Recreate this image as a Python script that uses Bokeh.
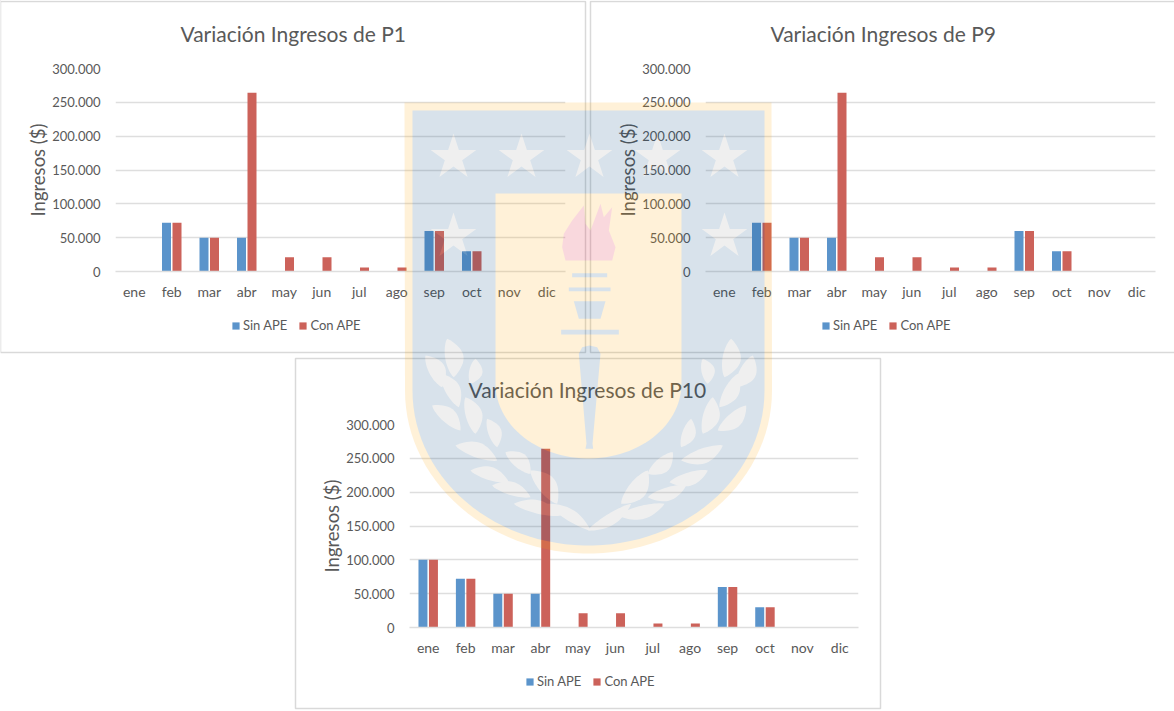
import numpy as np
from bokeh.embed import file_html
from bokeh.resources import INLINE
from bokeh.models import ColumnDataSource, FixedTicker, Range1d, FactorRange, Title, Legend, LegendItem
from bokeh.plotting import figure
from bokeh.transform import dodge

months = ["ene", "feb", "mar", "abr", "may", "jun", "jul", "ago", "sep", "oct", "nov", "dic"]
p1_sin = [0, 72000, 50000, 50000, 0, 0, 0, 0, 60000, 30000, 0, 0]
p1_con = [0, 72000, 50000, 264000, 21000, 21000, 6000, 6000, 60000, 30000, 0, 0]
p9_sin = [0, 72000, 50000, 50000, 0, 0, 0, 0, 60000, 30000, 0, 0]
p9_con = [0, 72000, 50000, 264000, 21000, 21000, 6000, 6000, 60000, 30000, 0, 0]
p10_sin = [100000, 72000, 50000, 50000, 0, 0, 0, 0, 60000, 30000, 0, 0]
p10_con = [100000, 72000, 50000, 264000, 21000, 21000, 6000, 6000, 60000, 30000, 0, 0]
y_ticks = [0, 50000, 100000, 150000, 200000, 250000, 300000]
y_labels = ["0", "50.000", "100.000", "150.000", "200.000", "250.000", "300.000"]
series_names = ["Sin APE", "Con APE"]

BLUE, RED, INK, GRID = "#5b94cb", "#cc625a", "#595959", "#dedede"
FONT = "Lato"
HEAD = 20  # extra room above each chart so that the title never pushes its frame down


def place(fig, left, top, extra=None):
    s = {"position": "absolute", "left": f"{left}px", "top": f"{top}px"}
    s.update(extra or {})
    fig.styles = s


def chart(title, sin, con, left, top, w, h, border_top, right, title_offset):
    src = ColumnDataSource(dict(m=months, sin=sin, con=con))
    p = figure(x_range=FactorRange(*months, range_padding=0, factor_padding=0),
               y_range=Range1d(0, 300000), width=w, height=h + HEAD, output_backend="svg",
               toolbar_location=None, min_border_left=115, min_border_right=right,
               min_border_top=border_top + HEAD, min_border_bottom=h - border_top - 203)
    p.title = Title(text=title, text_font=FONT, text_font_size="21px", text_font_style="normal",
                    text_color=INK, align="left", offset=title_offset, standoff=46)
    p.background_fill_alpha = 0
    p.border_fill_alpha = 0
    p.outline_line_color = None
    p.vbar(x=dodge("m", -0.14, range=p.x_range), top="sin", width=0.24, bottom=0, source=src,
           color=BLUE, line_color=None)
    p.vbar(x=dodge("m", 0.14, range=p.x_range), top="con", width=0.24, bottom=0, source=src,
           color=RED, line_color=None)
    p.xgrid.visible = False
    p.ygrid.grid_line_color = GRID
    p.ygrid.grid_line_width = 1.5
    p.yaxis.ticker = FixedTicker(ticks=y_ticks)
    p.yaxis.major_label_overrides = dict(zip(y_ticks, y_labels))
    p.yaxis.axis_line_color = None
    p.xaxis.axis_line_color = GRID
    p.xaxis.axis_line_width = 1.5
    for ax in (p.xaxis[0], p.yaxis[0]):
        ax.major_tick_line_color = None
        ax.minor_tick_line_color = None
        ax.major_label_text_font = FONT
        ax.major_label_text_color = INK
    p.xaxis.major_label_text_font_size = "14px"
    p.yaxis.major_label_text_font_size = "13px"
    p.xaxis.major_label_standoff = 5
    p.yaxis.major_label_standoff = 9
    p.yaxis.axis_label = "Ingresos ($)"
    p.yaxis.axis_label_text_font = FONT
    p.yaxis.axis_label_text_font_size = "18.5px"
    p.yaxis.axis_label_text_font_style = "normal"
    p.yaxis.axis_label_text_color = INK
    p.yaxis.axis_label_standoff = 0
    place(p, left, top - HEAD)
    return p


def canvas_fig():
    f = figure(x_range=Range1d(0, 1174), y_range=Range1d(711, 0), width=1174, height=711,
               output_backend="svg", toolbar_location=None, x_axis_type=None, y_axis_type=None,
               min_border_left=0, min_border_right=0, min_border_top=0, min_border_bottom=0)
    f.grid.visible = False
    f.outline_line_color = None
    f.background_fill_alpha = 0
    f.border_fill_alpha = 0
    return f


# chart panels, behind the charts; the legends sit here because a chart's frame would clip them
panels = canvas_fig()
panels.quad(left=[0, 590, 295], right=[585, 1180, 880], top=[1, 1, 358], bottom=[352, 352, 708],
            fill_color="white", line_color="#d9d9d9", line_width=1.5)
# keys for the legends: one bar each, outside the visible range
key_sin = panels.vbar(x=[-50], top=[-60], bottom=[-50], width=1, color=BLUE, line_color=None)
key_con = panels.vbar(x=[-50], top=[-60], bottom=[-50], width=1, color=RED, line_color=None)
for lx, ly in [(231, 378), (821, 378), (525, 22)]:
    lg = Legend(items=[LegendItem(label=series_names[0], renderers=[key_sin]),
                       LegendItem(label=series_names[1], renderers=[key_con])],
                orientation="horizontal", location=(lx, ly), margin=0, padding=0, spacing=11,
                border_line_color=None, background_fill_alpha=0, glyph_width=9, glyph_height=9,
                label_standoff=3, label_text_font=FONT, label_text_font_size="13px", label_text_color=INK)
    panels.add_layout(lg, "center")
place(panels, 0, 0)

# watermark crest, laid over the charts at low opacity
wm = canvas_fig()
CX = 588


def shield(x0, x1, top, straight, bottom):
    t = np.linspace(np.pi, 0, 60)
    xs = CX + (x1 - x0) / 2 * np.cos(t)
    ys = straight + (bottom - straight) * np.sin(t)
    return [x0, *xs, x1], [top, *ys, top]


def star(cx, cy, r=24):
    a = np.arange(10) * np.pi / 5 - np.pi / 2
    rad = np.where(np.arange(10) % 2 == 0, r, r * 0.38)
    return list(cx + rad * np.cos(a)), list(cy + rad * np.sin(a))


def z(x, y):
    return 390 + x / 3, 90 + y / 3


def poly(pts, color):
    xs, ys = zip(*[z(*q) for q in pts])
    wm.patch(list(xs), list(ys), color=color, line_color=None)


def leaf(a, b, w, color):
    (x0, y0), (x1, y1) = z(*a), z(*b)
    t = np.linspace(0, 1, 20)
    dx, dy = x1 - x0, y1 - y0
    n = np.hypot(dx, dy)
    nx, ny = -dy / n, dx / n
    off = np.sin(np.pi * t) ** 0.8 * w / 6
    bow = np.sin(np.pi * t) * w / 14
    xs = np.r_[x0 + dx * t + nx * (off + bow), (x0 + dx * t + nx * (-off + bow))[::-1]]
    ys = np.r_[y0 + dy * t + ny * (off + bow), (y0 + dy * t + ny * (-off + bow))[::-1]]
    wm.patch(xs, ys, color=color, line_color=None)


YEL, NAVY, PALE, FLAME = "#ffa500", "#00457f", "#9b9b9b", "#dd0023"
xs, ys = shield(404, 771, 102, 390, 553)
wm.patch(xs, ys, color=YEL, line_color=None)
xs, ys = shield(412, 764, 110, 390, 545)
wm.patch(xs, ys, color=NAVY, line_color=None)
for sx, sy in [(453, 157), (521, 157), (589, 157), (657, 157), (724, 157), (453, 236), (724, 236)]:
    xs, ys = star(sx, sy)
    wm.patch(xs, ys, color=PALE, line_color=None)
leaves = [((190, 860), (170, 745), 55), ((155, 890), (105, 795), 50), ((240, 880), (255, 805), 40),
          ((205, 950), (150, 850), 45), ((210, 1020), (125, 945), 45), ((255, 1030), (225, 920), 50),
          ((320, 1070), (290, 985), 40), ((320, 1110), (195, 1065), 45), ((420, 1150), (345, 1085), 45),
          ((355, 1175), (240, 1140), 40), ((420, 1220), (305, 1185), 40), ((500, 1240), (420, 1140), 55),
          ((510, 1275), (370, 1240), 40), ((600, 1320), (470, 1240), 35)]
for a, b, w in leaves:
    leaf(a, b, w, PALE)
    leaf((1192 - a[0], a[1]), (1192 - b[0], b[1]), w, PALE)
xs, ys = shield(495, 681, 193, 383, 458)
wm.patch(xs, ys, color=YEL, line_color=None)
poly([(515, 470), (520, 430), (545, 390), (580, 345), (585, 400), (600, 420), (630, 340), (640, 380),
      (665, 350), (655, 420), (675, 470), (665, 510), (525, 510)], FLAME)
poly([(545, 548), (650, 548), (650, 560), (545, 560)], NAVY)
poly([(535, 591), (660, 591), (660, 602), (535, 602)], NAVY)
poly([(550, 632), (645, 632), (630, 685), (565, 685)], NAVY)
poly([(512, 718), (685, 718), (685, 732), (512, 732)], NAVY)
poly([(565, 790), (575, 770), (597, 765), (620, 770), (630, 790), (606, 1060), (608, 1075), (585, 1075),
      (588, 1060)], NAVY)
place(wm, 0, 0, {"opacity": "0.15", "pointer-events": "none"})

p1 = chart("Variación Ingresos de P1", p1_sin, p1_con, 0, 0, 585, 352, 68, 20, 65)
p9 = chart("Variación Ingresos de P9", p9_sin, p9_con, 590, 0, 584, 352, 68, 19, 65)
p10 = chart("Variación Ingresos de P10", p10_sin, p10_con, 294, 358, 585, 350, 66, 21, 59)

roots = [panels, p1, p9, p10, wm]
open("out.html", "w").write(file_html(roots, INLINE))
